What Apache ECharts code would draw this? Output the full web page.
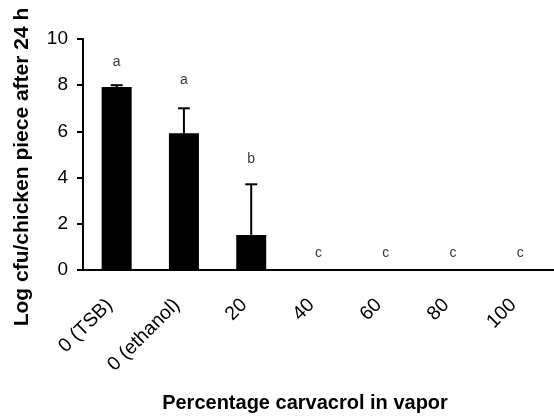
<!DOCTYPE html>
<html>
<head>
<meta charset="utf-8">
<script src="https://cdn.jsdelivr.net/npm/echarts@6/dist/echarts.min.js"></script>
<style>
html,body{margin:0;padding:0;background:#fff;}
#chart{width:554px;height:418px;}
</style>
</head>
<body>
<div id="chart"></div>
<script>
const categories = ['0 (TSB)', '0 (ethanol)', '20', '40', '60', '80', '100'];
const means = [7.92, 5.92, 1.52, 0, 0, 0, 0];
const errors = [0.08, 1.08, 2.19, 0, 0, 0, 0];
const letters = ['a', 'a', 'b', 'c', 'c', 'c', 'c'];
const letterY = [9.0, 8.2, 4.78, 0.72, 0.72, 0.72, 0.72];
const yMin = 0, yMax = 10, yStep = 2;

const FONT = '"Liberation Sans", Arial, sans-serif';
const chart = echarts.init(document.getElementById('chart'), null, {renderer: 'canvas'});

const option = {
  animation: false,
  backgroundColor: '#ffffff',
  grid: {left: 83, top: 39, width: 480, height: 231, containLabel: false},
  xAxis: {
    type: 'category',
    data: categories,
    axisLine: {show: true, lineStyle: {color: '#000', width: 2}},
    axisTick: {show: false},
    axisLabel: {
      rotate: 45,
      margin: 25,
      padding: [0, 10, 0, 0],
      color: '#000',
      fontSize: 19.5,
      fontFamily: FONT,
      interval: 0
    },
    splitLine: {show: false}
  },
  yAxis: {
    type: 'value',
    min: yMin, max: yMax, interval: yStep,
    axisLine: {show: true, lineStyle: {color: '#000', width: 2}},
    axisTick: {show: true, inside: false, length: 6, lineStyle: {color: '#000', width: 2}},
    axisLabel: {color: '#000', fontSize: 19, fontFamily: FONT, margin: 15},
    splitLine: {show: false}
  },
  series: [
    {
      type: 'bar',
      data: means,
      barWidth: 30,
      itemStyle: {color: '#000'},
      z: 2
    },
    {
      type: 'custom',
      data: means.map((m, i) => [i, m, m + errors[i]]),
      renderItem: function (params, api) {
        const i = api.value(0);
        const lo = api.coord([i, api.value(1)]);
        const hi = api.coord([i, api.value(2)]);
        if (api.value(2) - api.value(1) <= 0) return {type: 'group', children: []};
        const hw = 6;
        return {
          type: 'group',
          children: [
            {type: 'line', shape: {x1: lo[0], y1: lo[1], x2: hi[0], y2: hi[1]}, style: {stroke: '#000', lineWidth: 2}},
            {type: 'line', shape: {x1: hi[0] - hw, y1: hi[1], x2: hi[0] + hw, y2: hi[1]}, style: {stroke: '#000', lineWidth: 2}}
          ]
        };
      },
      z: 3
    },
    {
      type: 'scatter',
      data: letterY.map((v, i) => [i, v]),
      symbolSize: 0,
      label: {
        show: true,
        position: 'inside',
        formatter: function (p) { return letters[p.dataIndex]; },
        color: '#000',
        fontSize: 14,
        fontFamily: FONT
      },
      z: 4
    }
  ],
  graphic: [
    {
      type: 'text',
      x: 22, y: 167,
      rotation: Math.PI / 2,
      style: {
        text: 'Log cfu/chicken piece after 24 h',
        font: 'bold 21px ' + FONT,
        fill: '#000',
        align: 'center', verticalAlign: 'middle',
        textAlign: 'center', textVerticalAlign: 'middle'
      }
    },
    {
      type: 'text',
      x: 305, y: 403,
      style: {
        text: 'Percentage carvacrol in vapor',
        font: 'bold 20px ' + FONT,
        fill: '#000',
        align: 'center', verticalAlign: 'middle',
        textAlign: 'center', textVerticalAlign: 'middle'
      }
    }
  ]
};
chart.setOption(option);
</script>
</body>
</html>
